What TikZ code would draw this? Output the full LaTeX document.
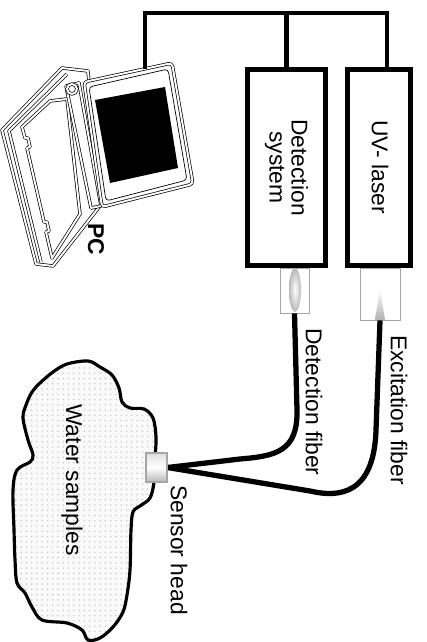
\documentclass[tikz,border=0pt]{standalone}
\usepackage{fontspec}
\setmainfont{Liberation Sans}
\usetikzlibrary{patterns}

\newcommand{\lblfont}{\fontsize{13}{12.5}\selectfont}

\begin{document}
\begin{tikzpicture}[x=0.02cm, y=-0.02cm,
  unit/.style={draw, line width=2.7pt, minimum height=3.93cm, inner sep=0pt},
  wire/.style={line width=2.4pt, line join=miter},
  fiber/.style={line width=3pt},
  plug/.style={draw=gray!70, line width=0.5pt, inner sep=0pt},
  lbl/.style={rotate=-90, font=\lblfont, inner sep=0pt, align=center},
  pcline/.style={draw, line width=0.4pt, double=white, double distance=1.1pt, line join=round},
]
\useasboundingbox (0,0) rectangle (426,642);

% Water samples
\draw[line width=1.8pt, preaction={fill=gray!4}, pattern=dots, pattern color=gray!40]
  plot[smooth cycle, tension=0.55] coordinates {
    (88,361) (100,367) (112,375) (119,388) (122,402) (130,408) (144,409)
    (153,418) (156,437) (155,460) (154,482) (150,498) (140,506) (133,512)
    (131,530) (130,570) (127,595) (123,612) (113,627) (100,638) (88,640)
    (82,630) (67,623) (42,620) (32,607) (25,593) (17,583) (15,560)
    (14,530) (13,490) (17,470) (30,462) (33,455) (28,440) (23,418)
    (26,405) (32,392) (40,383) (53,372) (67,364)};

% PC
\draw[pcline, fill=white] (62,68) -- (88,71) -- (100,206) -- (53,266) -- (36,264) -- (2,130) -- cycle;
\draw[pcline] (67,74) -- (9,131) -- (41,262);
\draw[pcline, fill=white] (22,127) -- (50,101) -- (67,99) -- (80,214) -- (52,258) -- (46,232)
  -- (49,231) -- (47,222) -- (44,222) -- (27,148) -- (30,147) -- (28,138) -- (25,138) -- cycle;
\draw[pcline, fill=white] (66,86) -- (79,83) -- (101,206) -- (91,208) -- cycle;
\draw[pcline, fill=white] (72,89) circle (5);
\draw[pcline, fill=white, rounded corners=2pt] (84,82) -- (172,63) -- (193,184) -- (102,207) -- cycle;
\draw[line width=0.4pt, rounded corners=2pt] (89,87) -- (168,69) -- (187,180) -- (106,201) -- cycle;
\fill (95,100) -- (165,87) -- (178,168) -- (110,183) -- cycle;
\node[lbl, font=\lblfont\bfseries] (pclbl) at (96,239) {PC};

% Units
\node[unit, minimum width=1.57cm] (det) at (286.5,167.5) {};
\node[unit, minimum width=1.27cm] (laser) at (379,167.5) {};
\node[lbl] (detlbl) at (det) {Detection\\system};
\node[lbl] (laserlbl) at (380,167) {UV- laser};

% Cabling to the PC
\coordinate (pctop) at (145,69);
\coordinate (busleft) at (145,13);
\coordinate (busright) at (387,13);
\draw[wire] (pctop) -- (busleft) -- (busright) -- (busright |- laser.north);
\draw[wire] (det.north) -- (det.north |- busleft);

% Fiber plugs
\node[plug, minimum width=0.58cm, minimum height=0.9cm] (detplug) at (294.5,290.5) {};
\node[plug, minimum width=0.8cm, minimum height=1.04cm] (laserplug) at (380,294) {};
\shade[inner color=white, outer color=gray!55] (295,290) ellipse [x radius=6, y radius=22];
\shade[top color=white, bottom color=gray!60] (380,288) -- (385,320) -- (375,320) -- cycle;

% Fibers
\node[draw=gray!70, line width=0.6pt, minimum width=0.42cm, minimum height=0.58cm, inner sep=0pt,
  top color=gray!25, bottom color=gray!55, middle color=white] (sensor) at (156.5,467.5) {};
\draw[fiber] (detplug.south) -- (297,410) .. controls (298,452) and (275,456) .. (240,459) -- (sensor.east);
\draw[fiber] (laserplug.south) -- (376,430) .. controls (374,494) and (340,498) .. (310,491) -- (sensor.east);
\node[draw=gray!70, line width=0.6pt, minimum width=0.42cm, minimum height=0.58cm, inner sep=0pt,
  top color=gray!25, bottom color=gray!55, middle color=white] at (sensor) {};

% Labels
\node[lbl] (detfiblbl) at (314,402) {Detection fiber};
\node[lbl] (excfiblbl) at (399,410) {Excitation fiber};
\node[lbl] (sensorlbl) at (179,550) {Sensor head};
\node[lbl] (waterlbl) at (72,480) {Water samples};

\end{tikzpicture}
\end{document}
